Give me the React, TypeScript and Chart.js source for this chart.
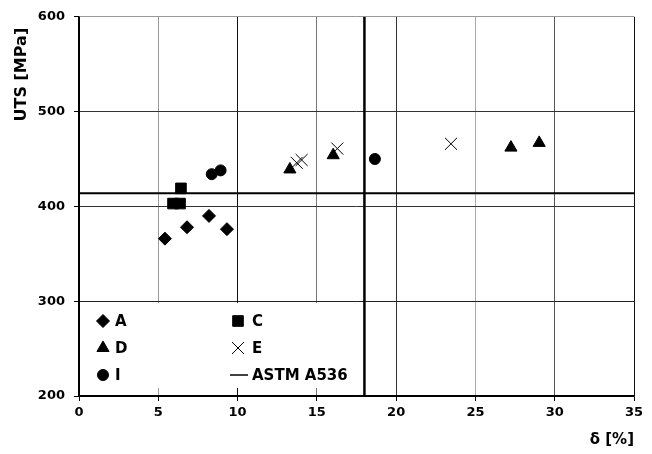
import { useEffect, useRef } from 'react';
import { Chart, registerables } from 'chart.js';
import { drawPoint } from 'chart.js/helpers';

Chart.register(...registerables);

// Elongation δ [%] and UTS [MPa] per series
const aX = [5.42, 6.81, 8.2, 9.33];
const aY = [366, 378, 390, 376];
const cX = [6.43, 5.93, 6.37];
const cY = [419, 403, 403];
const dX = [13.3, 16.03, 27.24, 29.02];
const dY = [439, 454, 462, 467];
const eX = [13.73, 14.04, 16.29, 23.46];
const eY = [446, 449, 461, 466];
const iX = [8.37, 8.93, 18.66];
const iY = [434, 438, 450];

// ASTM A536 limits
const astmUTS = 414;
const astmElong = 18;

const xTicks = [0, 5, 10, 15, 20, 25, 30, 35];
const yTicks = [200, 300, 400, 500, 600];

const xTitle = 'δ [%]';
const yTitle = 'UTS [MPa]';

const FONT = 'DejaVu Sans';

const pts = (xs: number[], ys: number[]) => xs.map((x, i) => ({ x, y: ys[i] }));

const xGridColors: Record<number, string> = { 0: '#000', 5: '#9a9a9a', 10: '#111', 15: '#777', 20: '#333', 25: '#aaa', 30: '#555', 35: '#111' };
const yGridColors: Record<number, string> = { 200: '#000', 300: '#222', 400: '#333', 500: '#333', 600: '#999' };

const legendLayout = [
  { ds: 0, col: 0, row: 0 },
  { ds: 1, col: 1, row: 0 },
  { ds: 2, col: 0, row: 1 },
  { ds: 3, col: 1, row: 1 },
  { ds: 4, col: 0, row: 2 },
  { ds: 5, col: 1, row: 2 },
];

const insideLegend = {
  id: 'insideLegend',
  beforeDatasetsDraw(chart: any) {
    const { ctx, chartArea } = chart;
    ctx.save();
    ctx.fillStyle = '#fff';
    ctx.fillRect(chartArea.left + 1, chartArea.bottom - 93, 276, 85);
    ctx.restore();
  },
  afterDatasetsDraw(chart: any) {
    const { ctx, chartArea } = chart;
    ctx.save();
    ctx.font = `bold 15px "${FONT}"`;
    ctx.textBaseline = 'middle';
    ctx.textAlign = 'left';
    const colMarker = [chartArea.left + 24, chartArea.left + 159];
    const colText = [chartArea.left + 36, chartArea.left + 173];
    const rowY = [chartArea.bottom - 75, chartArea.bottom - 48, chartArea.bottom - 21];
    legendLayout.forEach(({ ds, col, row }) => {
      const d = chart.data.datasets[ds];
      const mx = colMarker[col];
      const my = rowY[row];
      ctx.fillStyle = '#000';
      ctx.strokeStyle = '#000';
      if (d.showLine) {
        ctx.lineWidth = 1.5;
        ctx.beginPath();
        ctx.moveTo(mx - 8, my);
        ctx.lineTo(mx + 10, my);
        ctx.stroke();
      } else {
        ctx.lineWidth = d.pointBorderWidth ?? 1;
        drawPoint(ctx, { pointStyle: d.pointStyle, radius: d.pointRadius, rotation: 0, borderWidth: d.pointBorderWidth ?? 1 }, mx, my);
      }
      ctx.fillStyle = '#000';
      ctx.fillText(d.label, colText[col], my + 1);
    });
    ctx.restore();
  },
  afterDraw(chart: any) {
    const { ctx, chartArea } = chart;
    ctx.save();
    ctx.font = `bold 16px "${FONT}"`;
    ctx.fillStyle = '#000';
    ctx.textAlign = 'right';
    ctx.textBaseline = 'middle';
    ctx.translate(chartArea.left - 57, chartArea.top + 11);
    ctx.rotate(-Math.PI / 2);
    ctx.fillText(yTitle, 0, 0);
    ctx.restore();
  },
};

export default function App() {
  const ref = useRef<HTMLCanvasElement>(null);
  useEffect(() => {
    if (!ref.current) return;
    const pointDs = (label: string, data: any[], style: string, radius: number, bw = 1) => ({
      label,
      data,
      pointStyle: style,
      pointRadius: radius,
      pointHoverRadius: radius,
      pointBorderWidth: bw,
      backgroundColor: '#000',
      borderColor: '#000',
      showLine: false,
      order: 1,
    });
    const chart = new Chart(ref.current, {
      type: 'scatter',
      data: {
        datasets: [
          pointDs('A', pts(aX, aY), 'rectRot', 6.5),
          pointDs('C', pts(cX, cY), 'rect', 7.5),
          pointDs('D', pts(dX, dY), 'triangle', 7),
          pointDs('E', pts(eX, eY), 'crossRot', 8.5, 1),
          pointDs('I', pts(iX, iY), 'circle', 5.5),
          {
            label: 'ASTM A536',
            data: [{ x: xTicks[0], y: astmUTS }, { x: xTicks[xTicks.length - 1], y: astmUTS }],
            showLine: true,
            borderColor: '#000',
            borderWidth: 2,
            pointRadius: 0,
            order: 2,
          } as any,
          {
            label: 'ASTM A536 δ',
            data: [{ x: astmElong, y: yTicks[0] }, { x: astmElong, y: yTicks[yTicks.length - 1] }],
            showLine: true,
            borderColor: '#000',
            borderWidth: 2.5,
            pointRadius: 0,
            order: 2,
          } as any,
        ],
      },
      options: {
        responsive: false,
        animation: false,
        layout: { padding: { top: 16, right: 18, bottom: 0, left: 0 } },
        plugins: { legend: { display: false }, tooltip: { enabled: false } },
        scales: {
          x: {
            type: 'linear',
            min: xTicks[0],
            max: xTicks[xTicks.length - 1],
            afterBuildTicks: (s: any) => { s.ticks = xTicks.map((v) => ({ value: v })); },
            afterFit: (s: any) => { s.height = 58; },
            ticks: { color: '#000', font: { family: FONT, weight: 'bold', size: 13 }, padding: 4, maxRotation: 0 },
            grid: {
              color: (c: any) => xGridColors[c.tick?.value] ?? '#555',
              lineWidth: 1,
              tickLength: 5,
              tickColor: '#000',
            },
            border: { color: '#000', width: 1.5 },
            title: { display: true, text: xTitle, align: 'end', color: '#000', font: { family: FONT, weight: 'bold', size: 15 }, padding: { top: 0, bottom: 5 } },
          },
          y: {
            type: 'linear',
            min: yTicks[0],
            max: yTicks[yTicks.length - 1],
            afterBuildTicks: (s: any) => { s.ticks = yTicks.map((v) => ({ value: v })); },
            afterFit: (s: any) => { s.width = 79; },
            ticks: { color: '#000', font: { family: FONT, weight: 'bold', size: 13 }, padding: 9 },
            grid: {
              color: (c: any) => yGridColors[c.tick?.value] ?? '#555',
              lineWidth: 1,
              tickLength: 5,
              tickColor: '#000',
            },
            border: { color: '#000', width: 1.5 },
            title: { display: false, text: yTitle },
          },
        },
      } as any,
      plugins: [insideLegend],
    });
    return () => chart.destroy();
  }, []);
  return (
    <div style={{ position: 'absolute', left: 0, top: 0, width: 652, height: 454, background: '#fff' }}>
      <canvas ref={ref} width={652} height={454} />
    </div>
  );
}
